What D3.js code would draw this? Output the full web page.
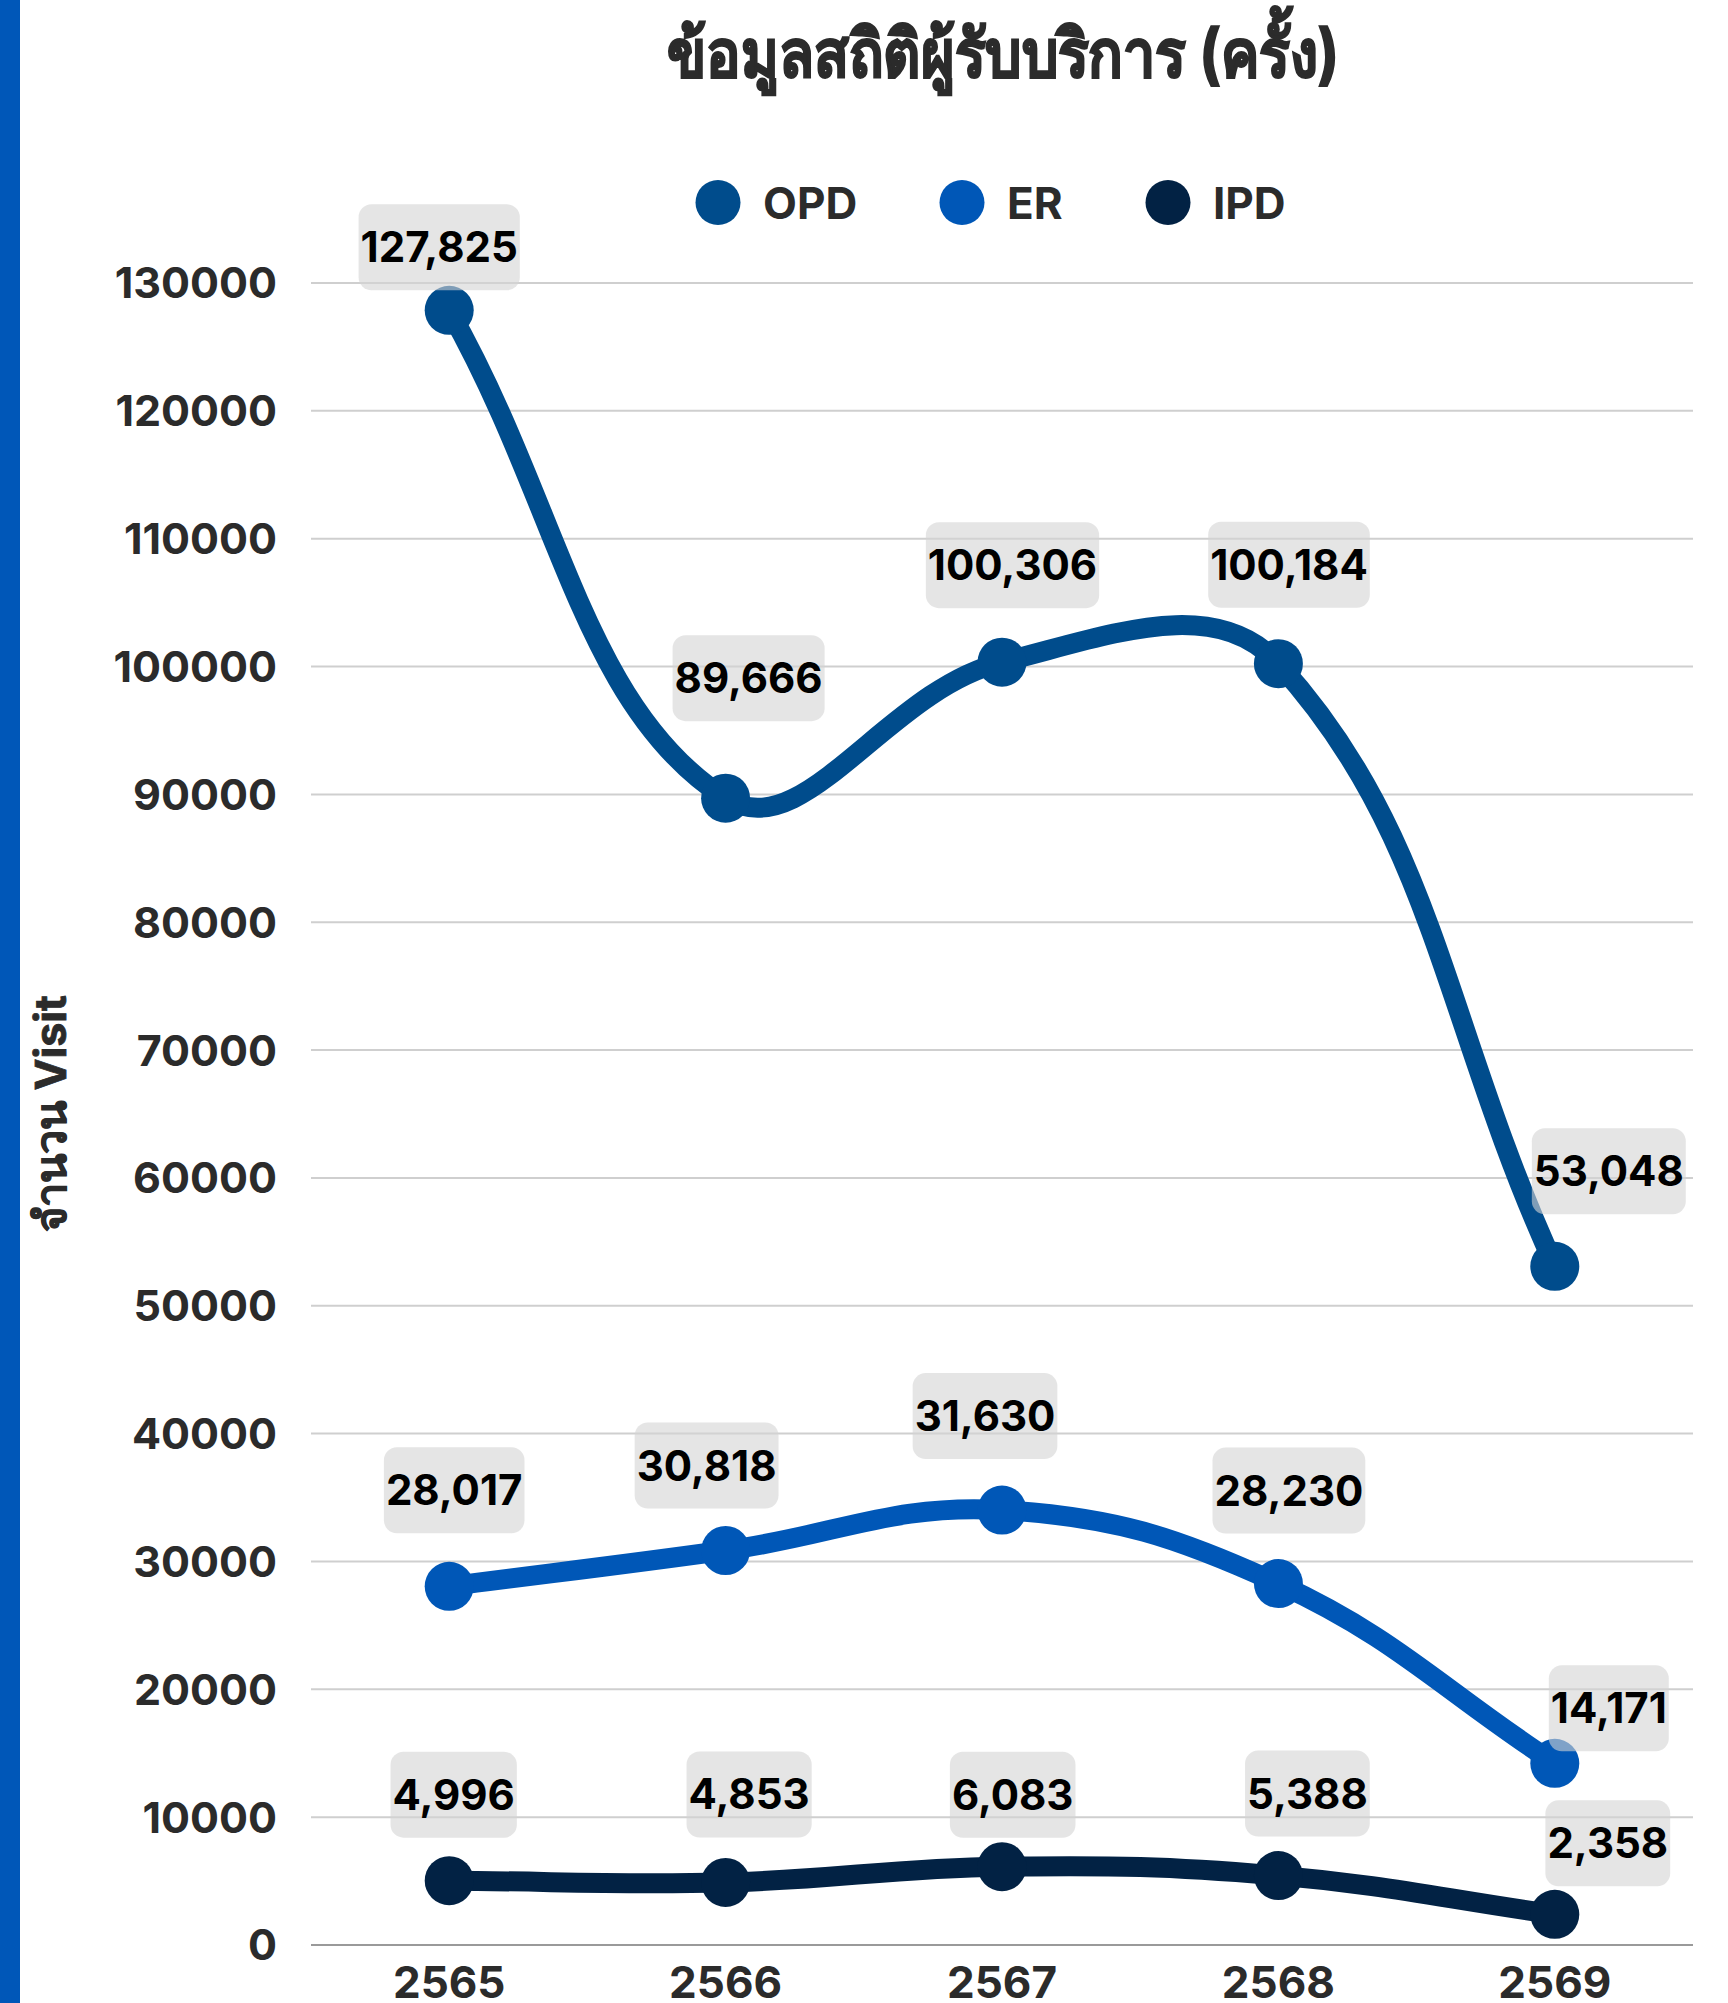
<!DOCTYPE html>
<html><head><meta charset="utf-8">
<script src="https://cdn.jsdelivr.net/npm/d3@7"></script>
<style>
body{margin:0;background:#fff;}
text{font-family:Inter,"Noto Sans",sans-serif;}
</style>
</head><body>
<svg id="chart" width="1728" height="2003"></svg>
<script>
// ---- data ----
const years = ["2565", "2566", "2567", "2568", "2569"];
const seriesNames = ["OPD", "ER", "IPD"];
const opdValues = [127825, 89666, 100306, 100184, 53048];
const erValues = [28017, 30818, 33980, 28230, 14171];
const ipdValues = [4996, 4853, 6083, 5388, 2358];
const opdLabels = ["127,825", "89,666", "100,306", "100,184", "53,048"];
const erLabels = ["28,017", "30,818", "31,630", "28,230", "14,171"];
const ipdLabels = ["4,996", "4,853", "6,083", "5,388", "2,358"];
const yTickValues = [0, 10000, 20000, 30000, 40000, 50000, 60000, 70000, 80000, 90000, 100000, 110000, 120000, 130000];
const titleText = "ข้อมูลสถิติผู้รับบริการ (ครั้ง)";
const yTitleText = "จำนวน Visit";

// ---- layout (nudges of label boxes relative to their point) ----
const opdNudge = [[-10, -63], [23, -120], [10.5, -97], [10.6, -99], [54, -95]];
const erNudge = [[5, -96], [-19, -85], [-17, -94], [10.5, -93], [54, -55]];
const ipdNudge = [[4.5, -86], [23.5, -88], [10.7, -72], [29, -82], [53, -71]];
const colors = ["#004c8c", "#0057b7", "#022244"];

const series = [
  {name: seriesNames[0], values: opdValues, labels: opdLabels, nudge: opdNudge, color: colors[0]},
  {name: seriesNames[1], values: erValues, labels: erLabels, nudge: erNudge, color: colors[1]},
  {name: seriesNames[2], values: ipdValues, labels: ipdLabels, nudge: ipdNudge, color: colors[2]}
];

const svg = d3.select("#chart");
const plot = {left: 311, right: 1693, top: 282.5, bottom: 1944.5};

const x = d3.scaleBand().domain(years).range([plot.left, plot.right]).padding(0);
const xc = d => x(d) + x.bandwidth() / 2;
const y = d3.scaleLinear().domain([0, 130000]).range([plot.bottom, plot.top]);

// left accent bar
svg.append("rect").attr("x", 0).attr("y", 0).attr("width", 20).attr("height", 2003).attr("fill", "#0057b8");

// title
svg.append("text").attr("x", 1003).attr("y", 77).attr("text-anchor", "middle")
  .attr("font-size", 66).attr("font-weight", 700).attr("fill", "#2b2b2b")
  .attr("stroke", "#2b2b2b").attr("stroke-width", 1.8)
  .attr("textLength", 672).attr("lengthAdjust", "spacingAndGlyphs")
  .text(titleText);

// gridlines + y axis
const yAxis = d3.axisLeft(y).tickValues(yTickValues).tickSize(-(plot.right - plot.left)).tickPadding(34).tickFormat(d3.format("d"));
const gy = svg.append("g").attr("transform", `translate(${plot.left},0)`).call(yAxis);
gy.select(".domain").remove();
gy.selectAll(".tick line").attr("stroke", d => d === 0 ? "#9a9a9a" : "#cfcfcf").attr("stroke-width", 2);
gy.selectAll(".tick text").attr("font-size", 43).attr("font-weight", 700).attr("fill", "#2b2b2b")
  .attr("font-family", "Inter").attr("dy", "0.36em");

// x axis
const xAxis = d3.axisBottom(x).tickSize(0).tickPadding(0);
const gx = svg.append("g").attr("transform", `translate(0,${plot.bottom})`).call(xAxis);
gx.select(".domain").remove();
gx.selectAll(".tick text").attr("font-size", 44).attr("font-weight", 700).attr("fill", "#2b2b2b")
  .attr("font-family", "Inter").attr("y", 53).attr("dy", 0);

// y title
svg.append("text").attr("transform", `translate(66,${(plot.top + plot.bottom) / 2}) rotate(-90)`)
  .attr("text-anchor", "middle").attr("font-size", 43).attr("font-weight", 700).attr("fill", "#2b2b2b")
  .attr("stroke", "#2b2b2b").attr("stroke-width", 0.8)
  .text(yTitleText);

// Chart.js-like spline curve (tension 0.4)
function splineCurve(context) {
  let pts;
  return {
    areaStart() {}, areaEnd() {},
    lineStart() { pts = []; },
    point(px, py) { pts.push([+px, +py]); },
    lineEnd() {
      const t = 0.4, n = pts.length;
      const cps = pts.map((p, i) => {
        const prev = pts[Math.max(i - 1, 0)], next = pts[Math.min(i + 1, n - 1)];
        const d01 = Math.hypot(p[0] - prev[0], p[1] - prev[1]);
        const d12 = Math.hypot(next[0] - p[0], next[1] - p[1]);
        let s01 = d01 / (d01 + d12), s12 = d12 / (d01 + d12);
        if (isNaN(s01)) s01 = 0;
        if (isNaN(s12)) s12 = 0;
        const fa = t * s01, fb = t * s12;
        return {
          prev: [p[0] - fa * (next[0] - prev[0]), p[1] - fa * (next[1] - prev[1])],
          next: [p[0] + fb * (next[0] - prev[0]), p[1] + fb * (next[1] - prev[1])]
        };
      });
      context.moveTo(pts[0][0], pts[0][1]);
      for (let i = 1; i < n; i++) {
        context.bezierCurveTo(cps[i - 1].next[0], cps[i - 1].next[1], cps[i].prev[0], cps[i].prev[1], pts[i][0], pts[i][1]);
      }
    }
  };
}

const line = d3.line().x((d, i) => xc(years[i])).y(d => y(d)).curve(splineCurve);

const gLines = svg.append("g");
series.forEach(s => {
  gLines.append("path").datum(s.values).attr("d", line).attr("fill", "none")
    .attr("stroke", s.color).attr("stroke-width", 20).attr("stroke-linejoin", "round").attr("stroke-linecap", "round");
});
series.forEach(s => {
  gLines.selectAll(null).data(s.values).enter().append("circle")
    .attr("cx", (d, i) => xc(years[i])).attr("cy", d => y(d)).attr("r", 24.5).attr("fill", s.color);
});

// data labels
const gLab = svg.append("g");
series.forEach(s => {
  s.values.forEach((v, i) => {
    const cx = xc(years[i]) + s.nudge[i][0];
    const cy = y(v) + s.nudge[i][1];
    const g = gLab.append("g");
    const rect = g.append("rect");
    const t = g.append("text").attr("x", cx).attr("y", cy + 15).attr("text-anchor", "middle")
      .attr("font-size", 42).attr("font-weight", 700).attr("fill", "#000").text(s.labels[i]);
    const w = t.node().getComputedTextLength() + 4;
    rect.attr("x", cx - w / 2).attr("y", cy - 43).attr("width", w).attr("height", 86)
      .attr("rx", 13).attr("fill", "rgb(212,212,212)").attr("fill-opacity", 0.6);
  });
});

// legend
const legend = svg.append("g");
const legendCx = [718, 962, 1168];
series.forEach((s, i) => {
  legend.append("circle").attr("cx", legendCx[i]).attr("cy", 202.5).attr("r", 22.5).attr("fill", s.color);
  legend.append("text").attr("x", legendCx[i] + 45).attr("y", 219).attr("font-size", 44).attr("font-weight", 700)
    .attr("fill", "#2b2b2b").text(s.name);
});
</script>
</body></html>
